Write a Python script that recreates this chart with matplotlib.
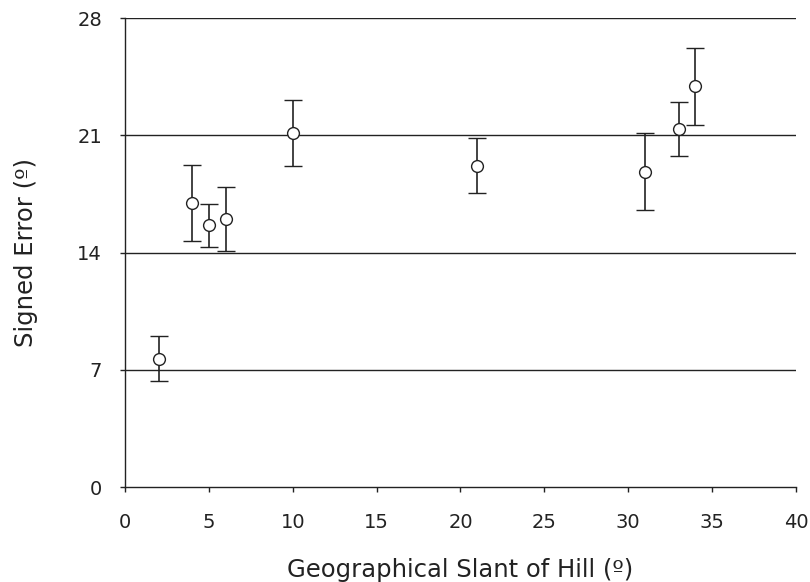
import numpy as np
import matplotlib.pyplot as plt

# slant of hill (deg) vs signed error (deg), with error bars
slant = [2, 4, 5, 6, 10, 21, 31, 33, 34]
signed_err = [7.65, 16.95, 15.62, 16.0, 21.13, 19.18, 18.82, 21.39, 23.92]
err_bar = [1.35, 2.25, 1.3, 1.9, 1.95, 1.65, 2.3, 1.6, 2.3]

xticks = [0, 5, 10, 15, 20, 25, 30, 35, 40]
yticks = [0, 7, 14, 21, 28]

plt.rcParams['font.family'] = ['DejaVu Sans']

fig = plt.figure(figsize=(8.1, 5.82), dpi=100)
ax = fig.add_axes([0.1543, 0.1632, 0.8284, 0.8058])

# horizontal gridlines
for yv in yticks[1:]:
    ax.axhline(yv, color='#222222', lw=1.0, zorder=1)

ax.errorbar(slant, signed_err, yerr=err_bar, fmt='o', color='#222222',
            mfc='white', mec='#222222', ms=8.5, mew=1.0, elinewidth=1.2,
            capsize=6.5, capthick=1.2, zorder=3)

ax.set_xlim(0, 40)
ax.set_ylim(0, 28)
ax.set_xticks(xticks)
ax.set_yticks(yticks)

for s in ['top', 'right']:
    ax.spines[s].set_visible(False)
for s in ['left', 'bottom']:
    ax.spines[s].set_color('#222222')
    ax.spines[s].set_linewidth(1.0)

ax.tick_params(axis='both', direction='out', length=3.5, width=1.0,
               color='#222222', labelsize=14, labelcolor='#222222')
ax.tick_params(axis='x', pad=15)
ax.tick_params(axis='y', pad=13)

ax.set_xlabel('Geographical Slant of Hill (º)', fontsize=17.5, color='#222222', labelpad=19)
ax.set_ylabel('Signed Error (º)', fontsize=17.5, color='#222222', labelpad=28)

fig.savefig('out.png', dpi=100)
